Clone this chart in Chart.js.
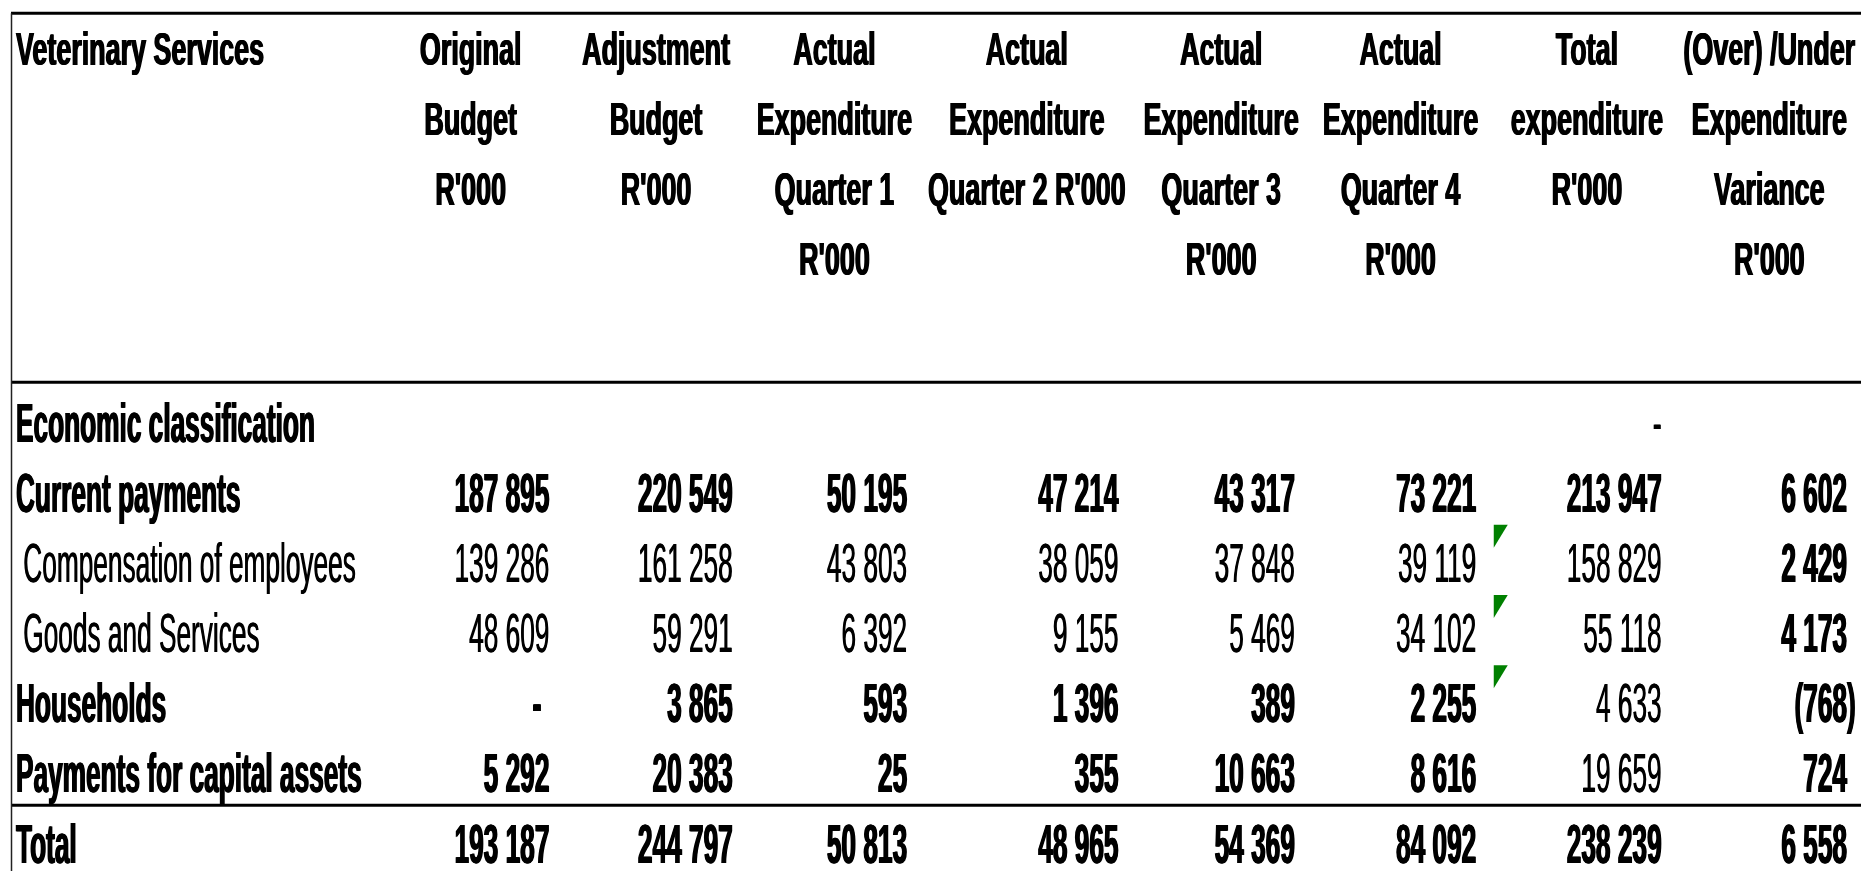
<!DOCTYPE html>
<html lang="en">
<head>
    <meta charset="UTF-8">
    <title>Veterinary Services - Expenditure</title>
    <script src="https://cdn.jsdelivr.net/npm/chart.js"></script>
    <style>
        body {
            margin: 0;
            background-color: #ffffff;
        }
        #tableChart {
            display: block;
        }
    </style>
</head>
<body>
    <canvas id="tableChart" width="1861" height="871"></canvas>

    <script>
        // Table contents
        const stubHeader = 'Veterinary Services';
        const columnKeys = ['orig', 'adj', 'q1', 'q2', 'q3', 'q4', 'total', 'var'];
        const columnHeaders = [
            ['Original', 'Budget', "R'000"],
            ['Adjustment', 'Budget', "R'000"],
            ['Actual', 'Expenditure', 'Quarter 1', "R'000"],
            ['Actual', 'Expenditure', "Quarter 2 R'000"],
            ['Actual', 'Expenditure', 'Quarter 3', "R'000"],
            ['Actual', 'Expenditure', 'Quarter 4', "R'000"],
            ['Total', 'expenditure', "R'000"],
            ['(Over) /Under', 'Expenditure', 'Variance', "R'000"]
        ];
        const rowLabels = [
            'Economic classification',
            'Current payments',
            ' Compensation of employees',
            ' Goods and Services',
            'Households',
            'Payments for capital assets',
            'Total'
        ];
        // null = empty cell, 0 = shown as "-"
        const originalBudget   = [null, 187895, 139286, 48609, 0,    5292,  193187];
        const adjustmentBudget = [null, 220549, 161258, 59291, 3865, 20383, 244797];
        const actualQ1         = [null, 50195,  43803,  6392,  593,  25,    50813];
        const actualQ2         = [null, 47214,  38059,  9155,  1396, 355,   48965];
        const actualQ3         = [null, 43317,  37848,  5469,  389,  10663, 54369];
        const actualQ4         = [null, 73221,  39119,  34102, 2255, 8616,  84092];
        const totalExpenditure = [0,    213947, 158829, 55118, 4633, 19659, 238239];
        const variance         = [null, 6602,   2429,   4173,  -768, 724,   6558];
        const series = [originalBudget, adjustmentBudget, actualQ1, actualQ2,
                        actualQ3, actualQ4, totalExpenditure, variance];

        // Styling
        const boldRows = [true, true, false, false, true, true, true];
        const boldColumns = ['var'];
        const regularCells = [['total', 0], ['total', 4], ['total', 5]];
        const commentRows = [2, 3, 4];       // green comment markers after Q4
        const commentColumn = 'q4';
        // small per-column shifts (px): Excel columns are not all equally wide
        const numberNudge = [0, -2, -13, 13, 4, 0, 0, 0];
        const headerNudge = [0, 0, -7, 0, 9, 3, 4, 1];

        const FONT_PX = 32;
        const FONT_FAMILY = '"Liberation Sans", Arial, sans-serif';
        const SX = 0.82;          // narrow face
        const SX_HEAD = 0.84;
        const SY_BODY = 1.76;     // picture is stretched vertically
        const SY_HEAD = 1.45;
        const CAP = 0.716;
        const FRAME_LEFT = 11;
        const HEADER_START = -5.32;   // header lines, in row units
        const RULE_TOP = -5.82;
        const RULE_HEAD = -0.56;
        const RULE_TOTAL = 5.47;

        function fmt(v) {
            if (v === 0) return '-';
            const s = String(Math.abs(v)).replace(/\B(?=(\d{3})+(?!\d))/g, ' ');
            return v < 0 ? '(' + s + ')' : s;
        }

        function drawText(ctx, text, x, y, align, bold, sy, sx) {
            // slightly heavier strokes, like the scanned original
            const offsets = bold ? [-0.6, 0, 0.6] : [-0.3, 0.3];
            ctx.save();
            ctx.font = (bold ? 'bold ' : '') + FONT_PX + 'px ' + FONT_FAMILY;
            ctx.textAlign = align;
            ctx.textBaseline = 'alphabetic';
            ctx.fillStyle = '#000000';
            offsets.forEach(dx => {
                ctx.save();
                ctx.translate(x + dx, y);
                ctx.scale(sx || SX, sy);
                ctx.fillText(text, 0, CAP * FONT_PX / 2);
                ctx.restore();
            });
            ctx.restore();
        }

        const tablePlugin = {
            id: 'tablePlugin',
            afterDraw(chart) {
                const ctx = chart.ctx;
                const xs = chart.scales.x;
                const ys = chart.scales.y;
                const band = (xs.right - xs.left) / columnKeys.length;
                const right = chart.width;

                ctx.save();
                ctx.font = 'bold ' + FONT_PX + 'px ' + FONT_FAMILY;
                const parenW = ctx.measureText(')').width * SX;
                ctx.restore();

                // rules
                ctx.save();
                ctx.strokeStyle = '#000000';
                ctx.lineWidth = 3;
                [RULE_TOP, RULE_HEAD, RULE_TOTAL].forEach(v => {
                    const y = ys.getPixelForValue(v);
                    ctx.beginPath();
                    ctx.moveTo(FRAME_LEFT, y);
                    ctx.lineTo(right, y);
                    ctx.stroke();
                });
                ctx.lineWidth = 1.5;
                ctx.strokeStyle = '#222222';
                ctx.beginPath();
                ctx.moveTo(FRAME_LEFT + 0.5, ys.getPixelForValue(RULE_TOP));
                ctx.lineTo(FRAME_LEFT + 0.5, chart.height);
                ctx.stroke();
                ctx.restore();

                // header
                drawText(ctx, stubHeader, FRAME_LEFT + 5, ys.getPixelForValue(HEADER_START), 'left', true, SY_HEAD, SX_HEAD);
                columnHeaders.forEach((lines, c) => {
                    const cx = xs.getPixelForTick(c) + headerNudge[c];
                    lines.forEach((line, k) => {
                        drawText(ctx, line, cx, ys.getPixelForValue(HEADER_START + k), 'center', true, SY_HEAD, SX_HEAD);
                    });
                });

                // row labels
                rowLabels.forEach((label, r) => {
                    drawText(ctx, label, FRAME_LEFT + 5, ys.getPixelForValue(r), 'left', boldRows[r], SY_BODY);
                });

                // cells
                chart.data.datasets.forEach((ds, c) => {
                    const meta = chart.getDatasetMeta(c);
                    const key = columnKeys[c];
                    meta.data.forEach((pt, j) => {
                        const raw = ds.data[j];
                        let bold = boldRows[raw.row] || boldColumns.includes(key);
                        if (regularCells.some(rc => rc[0] === key && rc[1] === raw.row)) bold = false;
                        const numRight = pt.x + band / 2 - 14 + numberNudge[c];
                        let x = numRight;
                        if (raw.v < 0) x = numRight + parenW;
                        if (raw.v === 0) x = numRight - (bold ? 8 : 0);
                        drawText(ctx, fmt(raw.v), x, pt.y, 'right', bold, SY_BODY);
                    });
                });

                // comment markers
                const cIdx = columnKeys.indexOf(commentColumn);
                const mx = xs.getPixelForTick(cIdx) + band / 2 + 3.5;
                ctx.save();
                ctx.fillStyle = '#008000';
                commentRows.forEach(r => {
                    const top = ys.getPixelForValue(r) - 37;
                    ctx.beginPath();
                    ctx.moveTo(mx, top);
                    ctx.lineTo(mx + 14, top);
                    ctx.lineTo(mx, top + 23);
                    ctx.closePath();
                    ctx.fill();
                });
                ctx.restore();
            }
        };

        const datasets = series.map((values, c) => ({
            label: columnKeys[c],
            data: values
                .map((v, r) => (v === null ? null : { x: columnKeys[c], y: rowLabels[r], row: r, v: v }))
                .filter(p => p !== null),
            pointRadius: 0,
            pointHoverRadius: 0,
            showLine: false
        }));

        const ctx = document.getElementById('tableChart').getContext('2d');
        const tableChart = new Chart(ctx, {
            type: 'scatter',
            data: { datasets: datasets },
            options: {
                responsive: false,
                animation: false,
                devicePixelRatio: 1,
                layout: {
                    padding: { left: 378, right: 0, top: 421.5, bottom: 28.5 }
                },
                scales: {
                    x: {
                        type: 'category',
                        labels: columnKeys,
                        offset: true,
                        display: false
                    },
                    y: {
                        type: 'category',
                        labels: rowLabels,
                        offset: false,
                        display: false
                    }
                },
                plugins: {
                    legend: { display: false },
                    tooltip: { enabled: false }
                },
                events: []
            },
            plugins: [tablePlugin]
        });
    </script>
</body>
</html>
